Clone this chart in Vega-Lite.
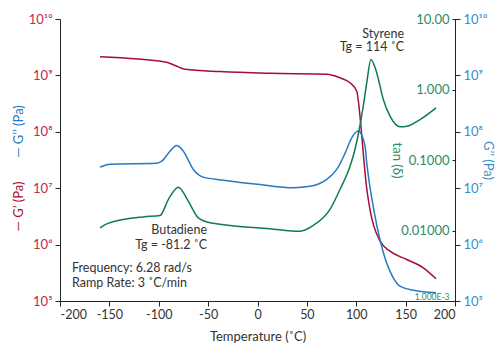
{
  "$schema": "https://vega.github.io/schema/vega-lite/v6.json",
  "width": 395,
  "height": 282,
  "autosize": "none",
  "padding": {"left": 60, "top": 19, "right": 43, "bottom": 43},
  "config": {
    "view": {"stroke": null},
    "font": "Lato",
    "axis": {"grid": false, "domainColor": "#222", "tickColor": "#222", "labelFont": "Lato", "titleFont": "Lato", "titleFontWeight": "normal", "labelFontSize": 12.5, "titleFontSize": 13}
  },
  "datasets": {
    "gp": [
      {"T": -159.5, "G": 2.14e9}, {"T": -92, "G": 1.71e9}, {"T": -83.5, "G": 1.50e9}, {"T": -73.4, "G": 1.29e9},
      {"T": -38, "G": 1.17e9}, {"T": 12.7, "G": 1.09e9}, {"T": 70.1, "G": 1.05e9}, {"T": 83.5, "G": 9.06e8},
      {"T": 93.7, "G": 7.40e8}, {"T": 100.5, "G": 5.25e8}, {"T": 103.8, "G": 1.89e8}, {"T": 106.8, "G": 4.85e7},
      {"T": 109.9, "G": 1.26e7}, {"T": 113.9, "G": 4.19e6}, {"T": 124.1, "G": 1.15e6}, {"T": 134.2, "G": 7.64e5},
      {"T": 151.1, "G": 5.45e5}, {"T": 167.9, "G": 3.88e5}, {"T": 180.8, "G": 2.48e5}
    ],
    "gpp": [
      {"T": -159.5, "G": 2.36e7}, {"T": -149.4, "G": 2.67e7}, {"T": -102.1, "G": 2.77e7}, {"T": -97.0, "G": 3.01e7},
      {"T": -88.6, "G": 4.53e7}, {"T": -81.8, "G": 5.71e7}, {"T": -75.1, "G": 4.53e7}, {"T": -65.0, "G": 2.15e7},
      {"T": -54.9, "G": 1.57e7}, {"T": -34.6, "G": 1.39e7}, {"T": 2.5, "G": 1.16e7}, {"T": 36.3, "G": 1.02e7},
      {"T": 53.2, "G": 1.08e7}, {"T": 70.1, "G": 1.43e7}, {"T": 80.2, "G": 2.15e7}, {"T": 90.3, "G": 4.85e7},
      {"T": 93.7, "G": 6.81e7}, {"T": 102.1, "G": 1.03e8}, {"T": 108.9, "G": 5.56e7}, {"T": 110.6, "G": 2.86e7},
      {"T": 119.0, "G": 3.19e6}, {"T": 127.4, "G": 7.24e5}, {"T": 137.5, "G": 2.58e5}, {"T": 144.3, "G": 1.83e5},
      {"T": 157.8, "G": 1.55e5}, {"T": 180.8, "G": 1.40e5}
    ],
    "tan": [
      {"T": -159.5, "D": 0.0109}, {"T": -152.7, "D": 0.0124}, {"T": -115.6, "D": 0.0156}, {"T": -98.7, "D": 0.0163},
      {"T": -90.3, "D": 0.0275}, {"T": -80.2, "D": 0.0411}, {"T": -70.1, "D": 0.0261}, {"T": -59.9, "D": 0.0151},
      {"T": -48.1, "D": 0.0129}, {"T": 12.7, "D": 0.0106}, {"T": 43.0, "D": 0.00977}, {"T": 56.5, "D": 0.0118},
      {"T": 73.4, "D": 0.0199}, {"T": 83.5, "D": 0.0382}, {"T": 93.7, "D": 0.0817}, {"T": 98.7, "D": 0.141},
      {"T": 107.1, "D": 0.579}, {"T": 110.6, "D": 1.24}, {"T": 114.9, "D": 2.67}, {"T": 120.7, "D": 1.73},
      {"T": 127.4, "D": 0.721}, {"T": 134.2, "D": 0.418}, {"T": 144.3, "D": 0.296}, {"T": 151.1, "D": 0.301},
      {"T": 164.6, "D": 0.375}, {"T": 180.8, "D": 0.550}
    ],
    "notesRight": [
      {"T": 148.4, "G": 5.53e9, "label": "Styrene"},
      {"T": 148.4, "G": 3.16e9, "label": "Tg = 114 ˚C"},
      {"T": -51.1, "G": 1.80e6, "label": "Butadiene"},
      {"T": -51.1, "G": 1.0e6, "label": "Tg = -81.2 ˚C"}
    ],
    "notesLeft": [
      {"T": -187.8, "G": 3.77e5, "label": "Frequency: 6.28 rad/s"},
      {"T": -187.8, "G": 2.10e5, "label": "Ramp Rate: 3 ˚C/min"}
    ]
  },
  "layer": [
    {
      "data": {"name": "gp"},
      "mark": {"type": "line", "color": "#A50D3A", "strokeWidth": 1.5, "interpolate": "monotone"},
      "encoding": {
        "x": {"field": "T", "type": "quantitative", "scale": {"domain": [-200, 200], "nice": false},
              "axis": {"values": [-200, -150, -100, -50, 0, 50, 100, 150, 200], "labelExpr": "'' + datum.value", "labelColor": "#333", "tickSize": 5, "labelPadding": 2, "title": "Temperature (˚C)", "titleColor": "#333", "titlePadding": 10}},
        "y": {"field": "G", "type": "quantitative", "scale": {"type": "log", "domain": [1e5, 1e10], "nice": false},
              "axis": {"values": [1e5, 1e6, 1e7, 1e8, 1e9, 1e10], "labelExpr": "'10' + ['⁵','⁶','⁷','⁸','⁹','¹⁰'][round(log(datum.value)/LN10) - 5]", "labelColor": "#C0294F", "labelFontSize": 13, "tickSize": 5, "labelPadding": 3,
                       "title": "— G’ (Pa)", "titleColor": "#A50D3A", "titleAngle": -90, "titleX": -42, "titleY": 187, "titleAlign": "center", "titleBaseline": "middle"}}
      }
    },
    {
      "data": {"name": "gpp"},
      "mark": {"type": "line", "color": "#2479C4", "strokeWidth": 1.5, "interpolate": "monotone"},
      "encoding": {
        "x": {"field": "T", "type": "quantitative"},
        "y": {"field": "G", "type": "quantitative", "scale": {"type": "log", "domain": [1e5, 1e10], "nice": false},
              "axis": {"orient": "right", "values": [1e5, 1e6, 1e7, 1e8, 1e9, 1e10], "labelExpr": "'10' + ['⁵','⁶','⁷','⁸','⁹','¹⁰'][round(log(datum.value)/LN10) - 5]", "labelColor": "#3A8FD0", "labelFontSize": 13, "tickSize": 5, "labelPadding": 3,
                       "title": "G’’ (Pa)", "titleColor": "#3A8FD0", "titleAngle": 90, "titleX": 32, "titleAlign": "center", "titleBaseline": "middle"}}
      }
    },
    {
      "data": {"name": "tan"},
      "mark": {"type": "line", "color": "#0E7B55", "strokeWidth": 1.5, "interpolate": "monotone"},
      "encoding": {
        "x": {"field": "T", "type": "quantitative"},
        "y": {"field": "D", "type": "quantitative", "scale": {"type": "log", "domain": [0.001, 10], "nice": false},
              "axis": {"orient": "left", "offset": -395, "values": [0.001, 0.01, 0.1, 1, 10], "labelExpr": "datum.value < 0.005 ? '1.000E-3' : format(datum.value, '.4r')",
                       "labelColor": "#2E8B6A", "labelFontSize": {"condition": {"test": "datum.value < 0.005", "value": 8.5}, "value": 13},
                       "labelBaseline": {"condition": {"test": "datum.value < 0.005", "value": "bottom"}, "value": "middle"},
                       "tickSize": 3, "labelPadding": 3,
                       "title": "tan (δ)", "titleColor": "#2E8B6A", "titleAngle": 90, "titleX": -59, "titleAlign": "center", "titleBaseline": "middle"}}
      }
    },
    {
      "data": {"name": "gpp"},
      "mark": {"type": "line", "opacity": 0},
      "encoding": {
        "x": {"field": "T", "type": "quantitative"},
        "y": {"field": "G", "type": "quantitative", "scale": {"type": "log", "domain": [1e5, 1e10], "nice": false},
              "axis": {"orient": "left", "labels": false, "ticks": false, "domain": false,
                       "title": "— G’’ (Pa)", "titleColor": "#2479C4", "titleAngle": -90, "titleX": -42, "titleY": 112, "titleAlign": "center", "titleBaseline": "middle"}}
      }
    },
    {
      "data": {"name": "notesRight"},
      "mark": {"type": "text", "align": "right", "baseline": "middle", "fontSize": 12.5, "color": "#333", "font": "Lato"},
      "encoding": {
        "x": {"field": "T", "type": "quantitative"},
        "y": {"field": "G", "type": "quantitative", "scale": {"type": "log", "domain": [1e5, 1e10], "nice": false}, "axis": null},
        "text": {"field": "label"}
      }
    },
    {
      "data": {"name": "notesLeft"},
      "mark": {"type": "text", "align": "left", "baseline": "middle", "fontSize": 12.5, "color": "#333", "font": "Lato"},
      "encoding": {
        "x": {"field": "T", "type": "quantitative"},
        "y": {"field": "G", "type": "quantitative", "scale": {"type": "log", "domain": [1e5, 1e10], "nice": false}, "axis": null},
        "text": {"field": "label"}
      }
    }
  ],
  "resolve": {"scale": {"y": "independent"}}
}
